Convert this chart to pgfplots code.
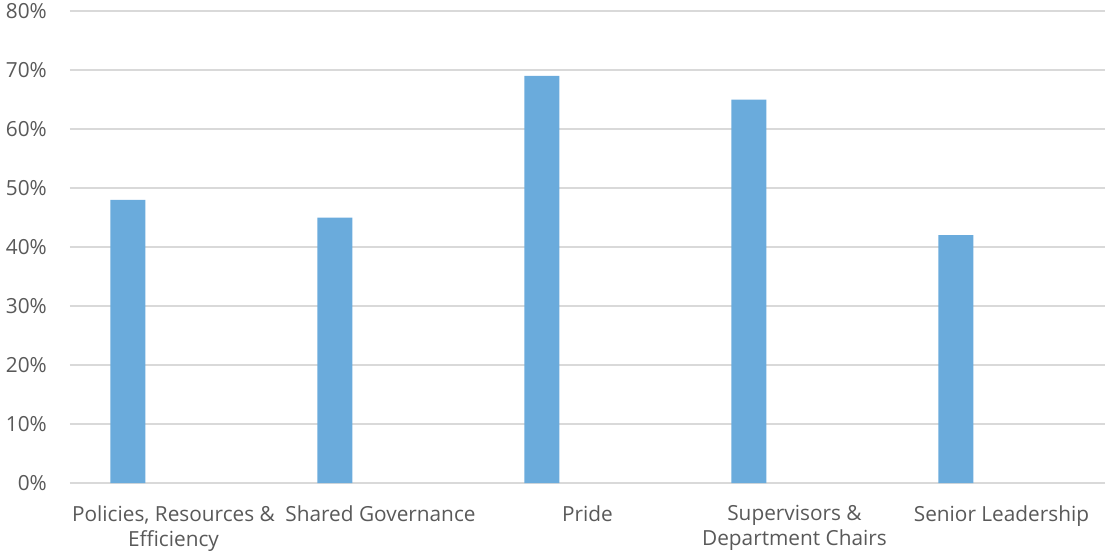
\documentclass[border=0pt]{standalone}
\usepackage{fontspec}
\setmainfont{Open Sans}
\usepackage{pgfplots}
\pgfplotsset{compat=1.18}
\definecolor{barblue}{HTML}{6AABDC}
\definecolor{gridgray}{HTML}{D9D9D9}
\definecolor{textgray}{HTML}{595959}
\begin{document}
\begin{tikzpicture}
\begin{axis}[
  scale only axis,
  width=1035pt, height=472pt,
  xmin=-0.5, xmax=4.5,
  ymin=0, ymax=80,
  ytick={0,10,...,80},
  xtick={0,1,2,3,4},
  xticklabels={{Policies, Resources \&\\Efficiency},{Shared Governance},{Pride},{Supervisors \&\\Department Chairs},{Senior Leadership}},
  yticklabel={\pgfmathprintnumber{\tick}\%},
  /pgf/number format/assume math mode=true,
  major tick length=0pt,
  axis line style={draw=none},
  ymajorgrids,
  major grid style={gridgray, line width=1.5pt},
  tick label style={font=\fontsize{20.8}{25}\selectfont, text=textgray},
  yticklabel style={inner sep=0pt, xshift=-23pt},
  xticklabel style={inner sep=0pt, yshift=-22pt, align=center},
  clip=false,
]
\addplot[ybar, bar width=0.169, bar shift=-0.22, fill=barblue, draw=none]
  coordinates {(0,48) (1,45) (2,69) (3,65) (4,42)};
\end{axis}
\pgfresetboundingbox
\path (-70pt,-72pt) rectangle (1035pt,483pt);
\end{tikzpicture}
\end{document}
